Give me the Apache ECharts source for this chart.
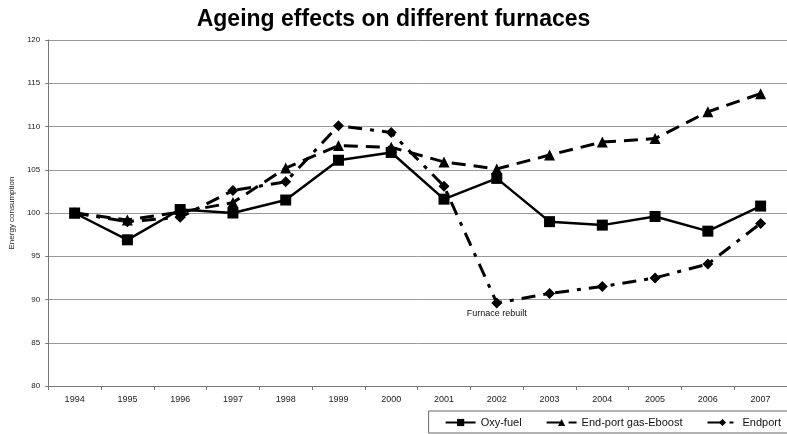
<!DOCTYPE html>
<html>
<head>
<meta charset="utf-8">
<script src="https://cdn.jsdelivr.net/npm/echarts@6/dist/echarts.min.js"></script>
<style>
  html, body { margin: 0; padding: 0; background: #fff; }
  #chart { width: 787px; height: 434px; }
</style>
</head>
<body>
<div id="chart"></div>
<script>
// years on the x axis
var years = ['1994', '1995', '1996', '1997', '1998', '1999', '2000',
  '2001', '2002', '2003', '2004', '2005', '2006', '2007'];

// series values
var oxyFuel = [100, 96.9, 100.4, 100.0, 101.5, 106.1, 107.0, 101.6, 104.0, 99.0, 98.6, 99.6, 97.9, 100.8];
var eboost  = [100, 99.2, 100.1, 101.2, 105.2, 107.8, 107.6, 105.9, 105.1, 106.7, 108.2, 108.6, 111.7, 113.8];
var endport = [100, 99.0, 99.5, 102.6, 103.6, 110.1, 109.3, 103.1, 89.6, 90.7, 91.5, 92.5, 94.1, 98.8];

var seriesNames = ['Oxy-fuel', 'End-port gas-Eboost', 'Endport'];
var yTicks = { min: 80, max: 120, step: 5 };

var chart = echarts.init(document.getElementById('chart'));

var font = 'Liberation Sans, Arial, sans-serif';

var option = {
  backgroundColor: '#fff',
  animation: false,
  title: {
    text: 'Ageing effects on different furnaces',
    left: 'center',
    top: 3,
    textStyle: { fontFamily: font, fontSize: 23, fontWeight: 'bold', color: '#000' }
  },
  grid: { left: 46, right: 0, top: 40, bottom: 48 },
  legend: {
    right: -2,
    bottom: 1,
    itemWidth: 30,
    itemHeight: 9,
    itemGap: 24,
    padding: [6, 8, 5, 16],
    borderColor: '#666',
    borderWidth: 1,
    textStyle: { fontFamily: font, fontSize: 11, color: '#111' },
    data: seriesNames
  },
  xAxis: {
    type: 'category',
    data: years,
    boundaryGap: true,
    axisLine: { show: true, lineStyle: { color: '#777', width: 1 } },
    axisTick: { show: true, length: 4, lineStyle: { color: '#777' } },
    axisLabel: { fontFamily: font, fontSize: 9, color: '#222', margin: 9 }
  },
  yAxis: {
    type: 'value',
    min: yTicks.min,
    max: yTicks.max,
    interval: yTicks.step,
    name: 'Energy consumption',
    nameLocation: 'middle',
    nameGap: 29,
    nameRotate: 90,
    nameTextStyle: { fontFamily: font, fontSize: 8, color: '#222' },
    axisLine: { show: true, lineStyle: { color: '#777', width: 1 } },
    axisTick: { show: true, length: 3, lineStyle: { color: '#777' } },
    axisLabel: { fontFamily: font, fontSize: 8, color: '#222', margin: 8 },
    splitLine: { show: true, lineStyle: { color: '#999', width: 1 } }
  },
  series: [
    {
      name: seriesNames[0],
      type: 'line',
      data: oxyFuel,
      symbol: 'rect',
      symbolSize: 11,
      z: 3,
      lineStyle: { color: '#000', width: 2.5, type: 'solid' },
      itemStyle: { color: '#000' }
    },
    {
      name: seriesNames[1],
      type: 'line',
      data: eboost,
      symbol: 'triangle',
      symbolSize: 11,
      z: 2,
      lineStyle: { color: '#000', width: 3, type: [14, 8] },
      itemStyle: { color: '#000' }
    },
    {
      name: seriesNames[2],
      type: 'line',
      data: endport,
      symbol: 'diamond',
      symbolSize: 11,
      z: 2,
      lineStyle: { color: '#000', width: 3, type: [14, 8, 4, 8] },
      itemStyle: { color: '#000' },
      markPoint: {
        symbol: 'circle',
        symbolSize: 0,
        data: [{ coord: ['2002', endport[8]], value: 'Furnace rebuilt' }],
        label: {
          show: true,
          position: 'bottom',
          distance: 6,
          formatter: 'Furnace rebuilt',
          fontFamily: font,
          fontSize: 9,
          color: '#111'
        }
      }
    }
  ]
};

chart.setOption(option);
</script>
</body>
</html>
